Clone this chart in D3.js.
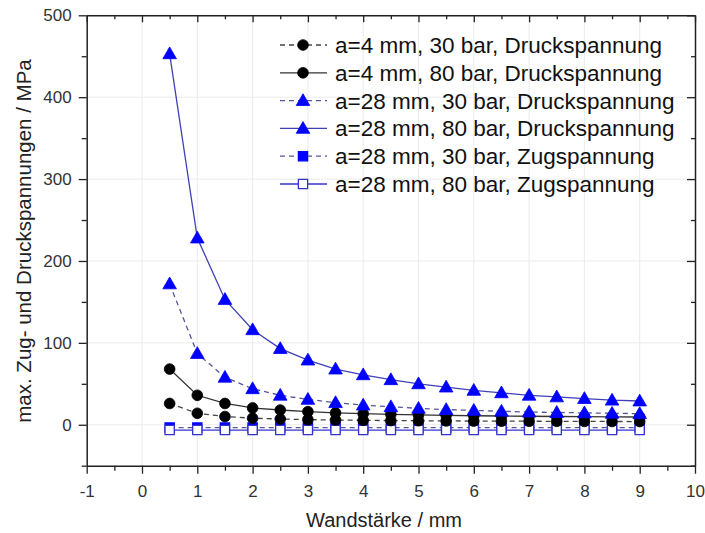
<!DOCTYPE html>
<html><head><meta charset="utf-8">
<script src="https://cdn.jsdelivr.net/npm/d3@7"></script>
<style>body{margin:0;background:#fff;} text{font-family:"Liberation Sans",Arial,sans-serif;}</style>
</head><body><svg id="c" width="705" height="533"></svg>
<script>
const xVals = [0.5,1,1.5,2,2.5,3,3.5,4,4.5,5,5.5,6,6.5,7,7.5,8,8.5,9];
const a4_30_druck  = [26,14,10,8,7,6.3,5.8,5.4,5.1,4.9,4.7,4.5,4.4,4.3,4.2,4.1,4.0,3.9];
const a4_80_druck  = [68,36,26,20.5,18,16,14.5,13.5,12.7,12,11.5,11,10.7,10.4,10.1,9.9,9.7,9.5];
const a28_30_druck = [172,87,58,44,36,31,27,24,22,20,18.5,17.5,16.5,15.5,15,14.5,14,13.5];
const a28_80_druck = [453,228,153,116,93,79,68,61,55,50,46,42,39,36,34,32,30,29];
const a28_30_zug   = [-3.5,-3.5,-3.5,-3.5,-3.5,-3.5,-3.5,-3.5,-3.5,-3.5,-3.5,-3.5,-3.5,-3.5,-3.5,-3.5,-3.5,-3.5];
const a28_80_zug   = [-6.5,-6.5,-6.5,-6.5,-6.5,-6.5,-6.5,-6.5,-6.5,-6.5,-6.5,-6.5,-6.5,-6.5,-6.5,-6.5,-6.5,-6.5];
const seriesNames = ["a=4 mm, 30 bar, Druckspannung","a=4 mm, 80 bar, Druckspannung","a=28 mm, 30 bar, Druckspannung","a=28 mm, 80 bar, Druckspannung","a=28 mm, 30 bar, Zugspannung","a=28 mm, 80 bar, Zugspannung"];
const xTicks = [-1,0,1,2,3,4,5,6,7,8,9,10];
const yTicks = [0,100,200,300,400,500];
const xTitle = "Wandstärke / mm";
const yTitle = "max. Zug- und Druckspannungen / MPa";

const series = [
  {name:seriesNames[0], vals:a4_30_druck, sym:"circle", fill:"#000", stroke:"#000", line:"#444", dash:"5,4"},
  {name:seriesNames[1], vals:a4_80_druck, sym:"circle", fill:"#000", stroke:"#000", line:"#333", dash:null},
  {name:seriesNames[2], vals:a28_30_druck, sym:"triangle", fill:"#0000ff", stroke:"#0000ff", line:"#555599", dash:"5,4"},
  {name:seriesNames[3], vals:a28_80_druck, sym:"triangle", fill:"#0000ff", stroke:"#0000ff", line:"#4040b8", dash:null},
  {name:seriesNames[4], vals:a28_30_zug, sym:"square", fill:"#0000ff", stroke:"#0000ff", line:"#555599", dash:"5,4"},
  {name:seriesNames[5], vals:a28_80_zug, sym:"square", fill:"#fff", stroke:"#3333cc", line:"#3333cc", dash:null}
];

const svg = d3.select("#c");
const L=86.7, R=695, T=15.3, B=465.7;
const x = d3.scaleLinear().domain([-1,10]).range([L,R]);
const y = d3.scaleLinear().domain([-50,500]).range([B,T]);

// grid
const g = svg.append("g");
g.selectAll("line.gx").data(d3.range(0,10)).enter().append("line")
  .attr("x1",d=>x(d)).attr("x2",d=>x(d)).attr("y1",T).attr("y2",B)
  .attr("stroke","#ebebeb").attr("stroke-width",1);
g.selectAll("line.gy").data(yTicks).enter().append("line")
  .attr("x1",L).attr("x2",R).attr("y1",d=>y(d)).attr("y2",d=>y(d))
  .attr("stroke","#ebebeb").attr("stroke-width",1);

// axes
const minorX = d3.range(-0.5,10,1);
const minorY = d3.range(-50,500,100);
const axStyle = sel => { sel.select(".domain").attr("stroke","#222").attr("stroke-width",1.5); sel.selectAll("line").attr("stroke","#222").attr("stroke-width",1.3); sel.selectAll("text").attr("fill","#333").style("font-size","17px"); };

const bx = svg.append("g").attr("transform",`translate(0,${B})`)
  .call(d3.axisBottom(x).tickValues(xTicks).tickFormat(d3.format("d")).tickSizeInner(8).tickSizeOuter(0).tickPadding(11));
axStyle(bx);
bx.selectAll("text").text(d=>d<0?"-"+Math.abs(d):d);
svg.append("g").attr("transform",`translate(0,${B})`)
  .call(d3.axisBottom(x).tickValues(minorX).tickFormat("").tickSizeInner(5).tickSizeOuter(0))
  .call(s=>{s.select(".domain").remove(); s.selectAll("line").attr("stroke","#222").attr("stroke-width",1.3);});

const lx = svg.append("g").attr("transform",`translate(${L},0)`)
  .call(d3.axisLeft(y).tickValues(yTicks).tickSizeInner(8).tickSizeOuter(0).tickPadding(7));
axStyle(lx);
svg.append("g").attr("transform",`translate(${L},0)`)
  .call(d3.axisLeft(y).tickValues(minorY).tickFormat("").tickSizeInner(5).tickSizeOuter(0))
  .call(s=>{s.select(".domain").remove(); s.selectAll("line").attr("stroke","#222").attr("stroke-width",1.3);});

const tx = svg.append("g").attr("transform",`translate(0,${T})`)
  .call(d3.axisBottom(x).tickValues(xTicks).tickFormat("").tickSizeInner(7).tickSizeOuter(0));
tx.select(".domain").attr("stroke","#222").attr("stroke-width",1.5); tx.selectAll("line").attr("stroke","#222").attr("stroke-width",1.3);
svg.append("g").attr("transform",`translate(0,${T})`)
  .call(d3.axisBottom(x).tickValues(minorX).tickFormat("").tickSizeInner(4).tickSizeOuter(0))
  .call(s=>{s.select(".domain").remove(); s.selectAll("line").attr("stroke","#222").attr("stroke-width",1.3);});

const rx = svg.append("g").attr("transform",`translate(${R},0)`)
  .call(d3.axisLeft(y).tickValues(yTicks).tickFormat("").tickSizeInner(8).tickSizeOuter(0));
rx.select(".domain").attr("stroke","#222").attr("stroke-width",1.5); rx.selectAll("line").attr("stroke","#222").attr("stroke-width",1.3);
svg.append("g").attr("transform",`translate(${R},0)`)
  .call(d3.axisLeft(y).tickValues(minorY).tickFormat("").tickSizeInner(4).tickSizeOuter(0))
  .call(s=>{s.select(".domain").remove(); s.selectAll("line").attr("stroke","#222").attr("stroke-width",1.3);});

// titles
svg.append("text").attr("x",384).attr("y",527).attr("text-anchor","middle")
  .style("font-size","20px").attr("fill","#222").text(xTitle);
svg.append("text").attr("transform",`translate(31,241) rotate(-90)`).attr("text-anchor","middle")
  .style("font-size","20.5px").attr("fill","#222").text(yTitle);

// symbols
const symMap = {circle:d3.symbolCircle, triangle:d3.symbolTriangle, square:d3.symbolSquare};
const symSize = {circle:90, triangle:80, square:85};
function drawSym(sel, s){
  sel.append("path").attr("d", d3.symbol().type(symMap[s.sym]).size(symSize[s.sym])())
    .attr("fill", s.fill).attr("stroke", s.stroke).attr("stroke-width", s.sym==="square"?1.3:0.8);
}

const line = d3.line().x(d=>x(d[0])).y(d=>y(d[1]));
const order = [4,5,0,1,2,3];
order.forEach(i=>{
  const s = series[i];
  const pts = xVals.map((v,j)=>[v,s.vals[j]]);
  svg.append("path").datum(pts).attr("d",line).attr("fill","none")
    .attr("stroke",s.line).attr("stroke-width",1.3).attr("stroke-dasharray",s.dash);
  const gs = svg.append("g");
  pts.forEach(p=>{
    const gg = gs.append("g").attr("transform",`translate(${x(p[0])},${y(p[1])+(s.sym==="triangle"?1:0)})`);
    drawSym(gg, s);
  });
});

// legend
const lg = svg.append("g");
series.forEach((s,i)=>{
  const yy = 45 + i*27.8;
  lg.append("line").attr("x1",280).attr("x2",327).attr("y1",yy).attr("y2",yy)
    .attr("stroke",s.line).attr("stroke-width",1.3).attr("stroke-dasharray",s.dash);
  const gg = lg.append("g").attr("transform",`translate(303,${yy+(s.sym==="triangle"?1:0)})`);
  drawSym(gg, s);
  lg.append("text").attr("x",335).attr("y",yy+8).style("font-size","22.5px").attr("fill","#111").text(s.name);
});
</script></body></html>
